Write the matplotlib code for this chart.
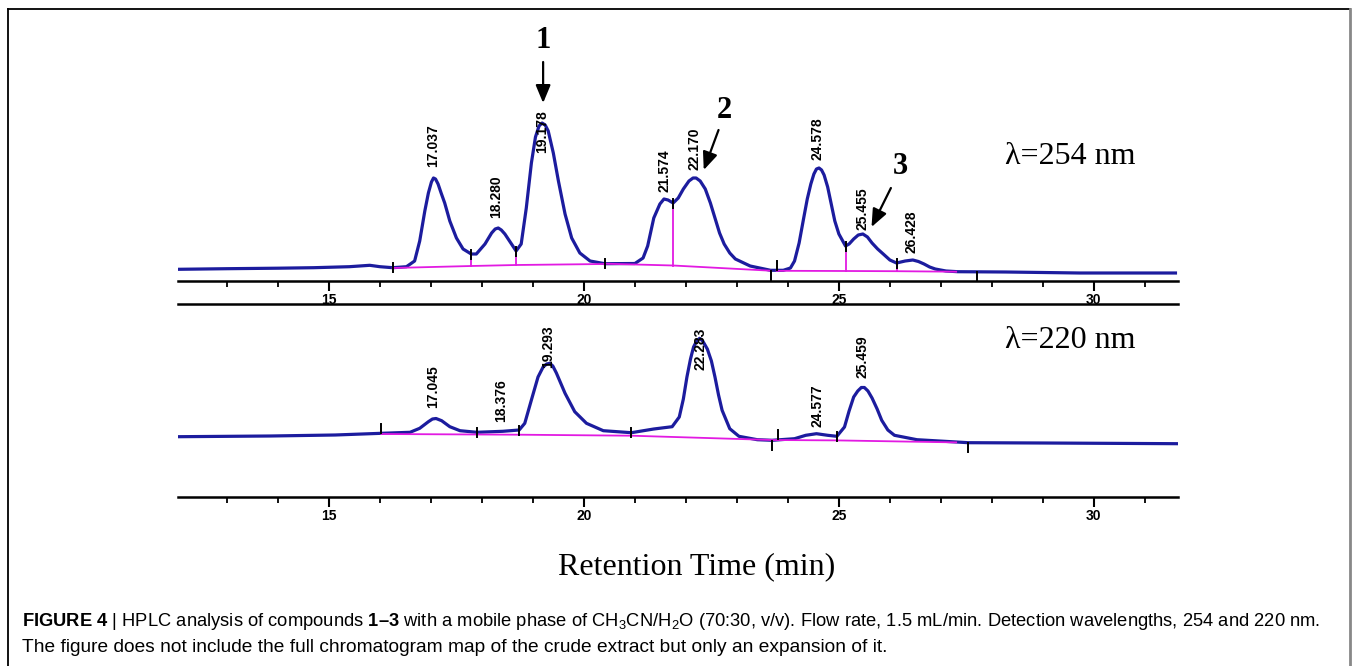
import numpy as np
import matplotlib
matplotlib.use('Agg')
import matplotlib.pyplot as plt
from matplotlib.ticker import MultipleLocator
from matplotlib.lines import Line2D

plt.rcParams['mathtext.fontset'] = 'custom'
plt.rcParams['mathtext.rm'] = 'Liberation Sans'
plt.rcParams['mathtext.bf'] = 'Liberation Sans:bold'
plt.rcParams['mathtext.it'] = 'Liberation Sans:italic'

# ---- data ----
# 254 nm trace: time (min), signal (arbitrary units)
t254 = [12.05, 13.0, 14.0, 14.7, 15.4, 15.8, 16.0, 16.25, 16.52, 16.68, 16.78, 16.88,
        16.95, 17.01, 17.05, 17.09, 17.14, 17.2, 17.27, 17.37, 17.5, 17.63, 17.79, 17.89,
        18.06, 18.19, 18.26, 18.32, 18.38, 18.45, 18.58, 18.67, 18.77, 18.87, 18.97, 19.05,
        19.12, 19.18, 19.24, 19.3, 19.4, 19.5, 19.63, 19.76, 19.92, 20.12, 20.41, 21.0,
        21.16, 21.25, 21.37, 21.49, 21.57, 21.65, 21.75, 21.85, 21.95, 22.06, 22.14, 22.2,
        22.28, 22.38, 22.48, 22.57, 22.66, 22.75, 22.86, 22.97, 23.26, 23.66, 23.91, 24.05,
        24.13, 24.22, 24.31, 24.38, 24.45, 24.51, 24.56, 24.61, 24.66, 24.71, 24.78, 24.85,
        24.92, 25.0, 25.13, 25.2, 25.29, 25.38, 25.47, 25.56, 25.65, 25.76, 25.87, 26.0,
        26.13, 26.3, 26.45, 26.56, 26.67, 26.78, 26.89, 27.1, 27.33, 28.27, 29.72, 31.6]
a254 = [11.7, 12.3, 12.8, 13.3, 14.3, 15.7, 14.3, 13.3, 14.3, 20, 40, 70,
        88, 99, 103, 102, 97, 88, 78, 60, 43, 32, 27, 27,
        37, 48, 52, 53, 51, 47, 37, 30, 37, 73, 118, 144,
        155, 158, 156, 150, 128, 100, 67, 43, 28, 20, 17.3, 17.5,
        23, 35, 63, 77, 82, 81, 78, 83, 92, 100, 103, 103,
        100, 92, 78, 63, 48, 37, 28, 22, 15, 10.7, 10.7, 13,
        20, 38, 63, 82, 97, 107, 112, 113, 111, 106, 94, 77,
        60, 47, 35, 37, 42, 46, 47, 44, 38, 32, 27, 21,
        18, 20, 21, 19.5, 17, 14, 12, 10, 9.3, 9, 8, 8]

# 220 nm trace
t220 = [12.05, 13.85, 15.12, 16.03, 16.59, 16.78, 16.95, 17.03, 17.1, 17.21, 17.37, 17.57,
        17.9, 18.41, 18.73, 18.84, 18.97, 19.1, 19.2, 19.27, 19.33, 19.39, 19.46, 19.63,
        19.82, 20.05, 20.38, 20.93, 21.37, 21.73, 21.87, 21.95, 22.02, 22.09, 22.15, 22.21,
        22.27, 22.33, 22.42, 22.5, 22.57, 22.64, 22.71, 22.86, 23.04, 23.4, 23.69, 24.13,
        24.35, 24.56, 24.78, 24.96, 25.11, 25.2, 25.29, 25.37, 25.44, 25.5, 25.57, 25.65,
        25.75, 25.84, 25.96, 26.09, 26.53, 27.54, 29.0, 31.65]
a220 = [60.3, 61, 62, 63.7, 64.7, 68.7, 75.3, 78, 78.5, 76.3, 70.3, 66.3,
        64.7, 65.7, 67, 73.7, 97, 120, 130, 133, 133.7, 131, 124, 103.7,
        85.3, 73.7, 66.3, 64.3, 68, 70.3, 80, 98, 120, 138, 150, 156,
        158.7, 156, 148, 136, 120, 102, 86.7, 68.3, 60.7, 57.3, 56.7, 58.3,
        61.7, 63.3, 61.7, 60.7, 70, 86, 100, 106, 109.5, 109.5, 106, 99,
        88, 76.7, 67, 61.7, 57.3, 54.3, 54, 53.3]

# integration baselines (time, signal)
base254 = [[(16.25, 13.0), (17.79, 15.0), (18.67, 16.0), (20.41, 17.0)],
           [(20.41, 17.3), (21.75, 15.5), (23.66, 10.3)],
           [(23.78, 10.2), (25.13, 10.0), (26.13, 9.8), (27.3, 9.3)]]
base220 = [[(16.03, 63.0), (18.73, 62.3), (20.93, 61.3), (23.69, 57.0),
            (24.96, 56.6), (27.3, 54.6)]]

# peak splits (drop lines) and integration marks
drops254 = [17.79, 18.67, 21.75, 25.13, 26.13]
marks254 = [(16.25, 'c'), (17.79, 'c'), (18.67, 'c'), (20.41, 'c'), (21.75, 'c'),
            (23.66, 'b'), (23.78, 'a'), (25.13, 'c'), (26.13, 'c'), (27.7, 'b')]
marks220 = [(16.03, 'a'), (17.9, 'c'), (18.73, 'c'), (20.93, 'c'), (23.69, 'b'),
            (23.8, 'a'), (24.96, 'c'), (27.54, 'b')]

# retention time labels
lab254 = ['17.037', '18.280', '19.178', '21.574', '22.170', '24.578', '25.455', '26.428']
lab254_y = [114, 63, 128, 89, 111, 121, 51, 28]
lab220 = ['17.045', '18.376', '19.293', '22.283', '24.577', '25.459']
lab220_y = [89, 75, 129, 127, 70, 119]

W, H = 1358, 666
fig = plt.figure(figsize=(W / 100, H / 100), dpi=100)


def fx(px):
    return px / W


def fy(py):
    return 1 - py / H


blue = '#1c1c9e'
mag = '#e21ae2'
serif = ['Liberation Serif', 'DejaVu Serif']
sans = ['Liberation Sans', 'DejaVu Sans']

ax1 = fig.add_axes([fx(178), fy(281), fx(1178) - fx(178), fy(20) - fy(281)])
ax2 = fig.add_axes([fx(178), fy(497), fx(1178) - fx(178), fy(304) - fy(497)])
ax1.set_ylim(0, 261)
ax2.set_ylim(0, 193)


def draw_panel(ax, t, a, bases, drops, marks, labs, labs_y, top_spine):
    ax.plot(t, a, color=blue, lw=2.3, solid_joinstyle='round', zorder=3)
    for seg in bases:
        bx = [p[0] for p in seg]
        by = [p[1] for p in seg]
        ax.plot(bx, by, color=mag, lw=1.3, zorder=4)
    allb = sorted([p for seg in bases for p in seg])
    bxs = [p[0] for p in allb]
    bys = [p[1] for p in allb]
    for d in drops:
        ax.plot([d, d], [np.interp(d, bxs, bys), np.interp(d, t, a)], color=mag, lw=1.3, zorder=4)
    for m, kind in marks:
        yc = np.interp(m, t, a)
        if kind == 'a':
            yc += 5
        elif kind == 'b':
            yc -= 5
        ax.plot([m, m], [yc - 4.5, yc + 4.5], color='k', lw=1.4, zorder=5)
    for lab, ly in zip(labs, labs_y):
        ax.text(float(lab), ly, lab, rotation=90, ha='center', va='bottom',
                fontsize=10, fontweight='bold', family=sans, zorder=6)

    ax.set_xlim(12.04, 31.65)
    ax.xaxis.set_major_locator(MultipleLocator(5))
    ax.xaxis.set_minor_locator(MultipleLocator(1))
    ax.set_yticks([])
    for s in ['left', 'right']:
        ax.spines[s].set_visible(False)
    ax.spines['top'].set_visible(top_spine)
    ax.spines['bottom'].set_linewidth(1.8)
    ax.spines['top'].set_linewidth(1.8)
    ax.tick_params(axis='x', which='major', length=7, width=1.5, direction='out',
                   pad=2, labelsize=10)
    ax.tick_params(axis='x', which='minor', length=4, width=1.3, direction='out')
    plt.setp(ax.get_xticklabels(), fontweight='bold', family=sans)
    ax.patch.set_alpha(0)


draw_panel(ax1, t254, a254, base254, drops254, marks254, lab254, lab254_y, False)
draw_panel(ax2, t220, a220, base220, [], marks220, lab220, lab220_y, True)

# compound numbers with arrows
arr = dict(arrowstyle='-|>,head_length=0.6,head_width=0.25', color='k', lw=1.6,
           mutation_scale=18, shrinkA=0, shrinkB=0)
ax1.text(19.2, 240, '1', ha='center', va='center', fontsize=22, fontweight='bold', family=serif)
ax1.annotate('', xy=(19.2, 178), xytext=(19.2, 219), arrowprops=arr)
ax1.text(22.75, 171, '2', ha='center', va='center', fontsize=22, fontweight='bold', family=serif)
ax1.annotate('', xy=(22.35, 111), xytext=(22.64, 151), arrowprops=arr)
ax1.text(26.2, 114, '3', ha='center', va='center', fontsize=22, fontweight='bold', family=serif)
ax1.annotate('', xy=(25.64, 54), xytext=(26.02, 93), arrowprops=arr)

ax1.text(28.25, 124, 'λ=254 nm', ha='left', va='center', fontsize=23, family=serif)
ax2.text(28.25, 156, 'λ=220 nm', ha='left', va='center', fontsize=23, family=serif)

fig.text(fx(697), fy(567), 'Retention Time (min)', ha='center', va='center',
         fontsize=23, family=serif)

# caption
cap1 = (r"$\mathbf{FIGURE\ 4}$ | HPLC analysis of compounds $\mathbf{1–3}$ with a mobile phase of "
        r"CH$_3$CN/H$_2$O (70:30, v/v). Flow rate, 1.5 mL/min. Detection wavelengths, 254 and 220 nm.")
cap2 = "The figure does not include the full chromatogram map of the crude extract but only an expansion of it."
fig.text(fx(22), fy(621), cap1, ha='left', va='center', fontsize=13.2, family=sans)
fig.text(fx(22), fy(647), cap2, ha='left', va='center', fontsize=13.8, family=sans)

# outer frame (open at the bottom)
fig.add_artist(Line2D([fx(8), fx(8)], [0, fy(9)], color='k', lw=1.3, transform=fig.transFigure))
fig.add_artist(Line2D([fx(8), fx(1350)], [fy(9), fy(9)], color='k', lw=1.3, transform=fig.transFigure))
fig.add_artist(Line2D([fx(1350), fx(1350)], [0, fy(9)], color='#888888', lw=2, transform=fig.transFigure))

fig.savefig('out.png', dpi=100)
